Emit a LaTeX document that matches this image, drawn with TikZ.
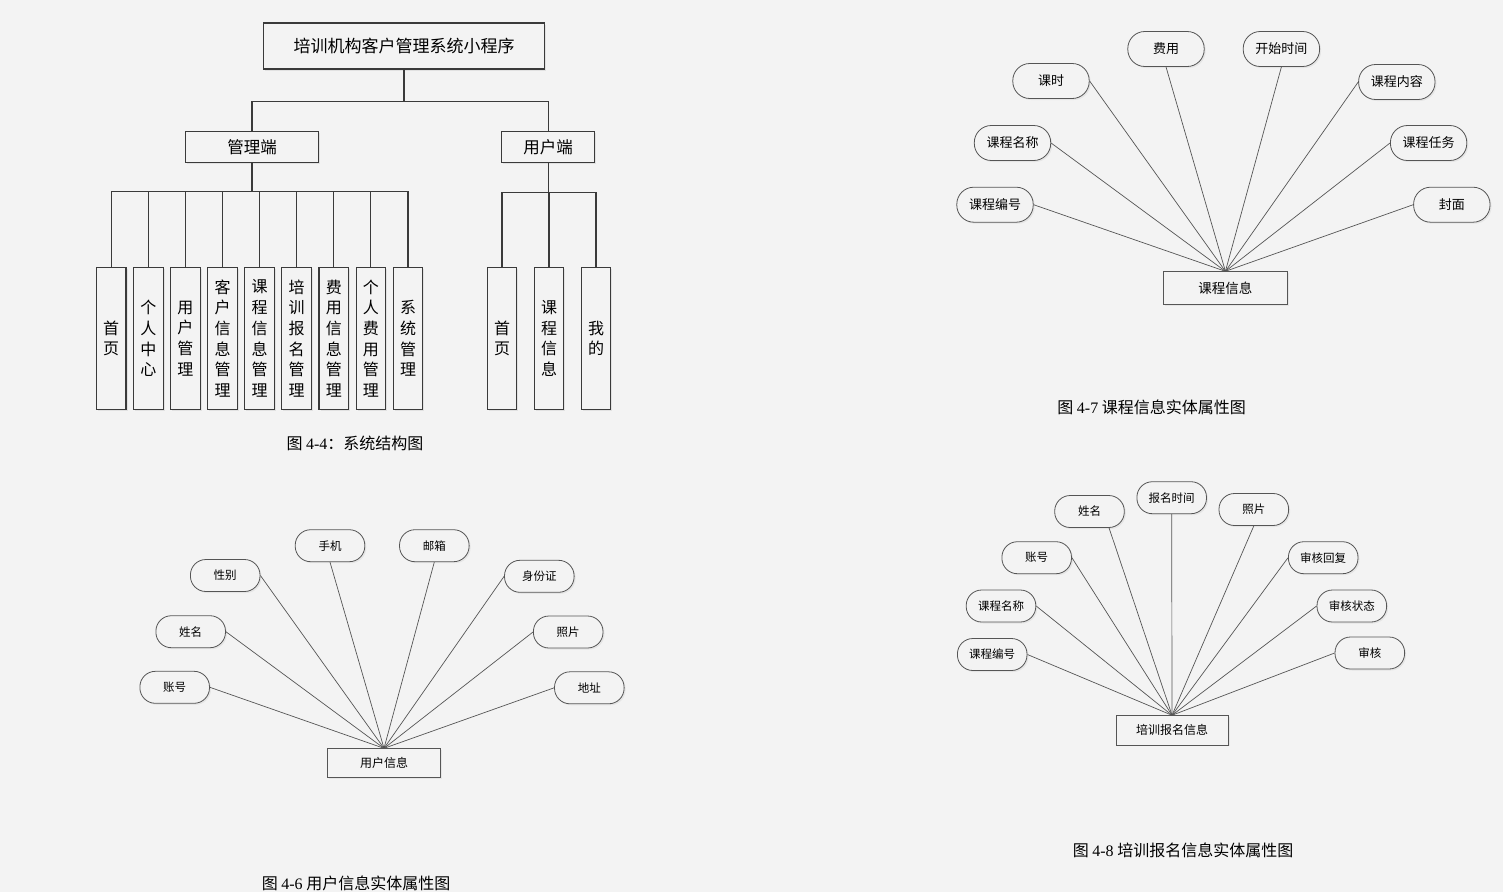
\documentclass[tikz,border=0pt]{standalone}
\usepackage{fontspec}
\setmainfont{Noto Sans CJK SC}
\newfontfamily\capfont{Liberation Serif}
\usetikzlibrary{shadows}
\definecolor{bgcol}{HTML}{F3F3F3}
\definecolor{linecol}{HTML}{3A3A3A}
\definecolor{ercol}{HTML}{555555}
\tikzset{
  treebox/.style={draw=linecol, line width=1.1pt, fill=bgcol, inner sep=0pt,
    drop shadow={opacity=0.15, shadow xshift=1.5pt, shadow yshift=-1.5pt},
    font=\fontsize{16.5}{20}\selectfont},
  leafbox/.style={treebox, minimum width=29.6pt, minimum height=142.4pt,
    anchor=north, align=center, font=\fontsize{16}{20.7}\selectfont},
  treeline/.style={draw=linecol, line width=1.1pt},
  erattr/.style={draw=ercol, line width=0.8pt, fill=bgcol, inner sep=0pt,
    drop shadow={opacity=0.12, shadow xshift=1.5pt, shadow yshift=-1.5pt}},
  attrbig/.style={erattr, minimum width=76.4pt, minimum height=35pt,
    rounded corners=17pt, font=\fontsize{13}{15}\selectfont},
  attrsmall/.style={erattr, minimum width=69.6pt, minimum height=32pt,
    rounded corners=15.5pt, font=\fontsize{11.5}{13}\selectfont},
  entbox/.style={erattr, rounded corners=0pt},
  erline/.style={draw=ercol, line width=0.7pt},
  caption/.style={font=\fontsize{16}{18}\selectfont}
}
\begin{document}
\begin{tikzpicture}[x=1pt,y=-1pt]
\fill[bgcol] (0,0) rectangle (1503,892);
\useasboundingbox (0,0) rectangle (1503,892);

% system structure
\node[treebox, minimum width=281pt, minimum height=46pt, font=\fontsize{17}{20}\selectfont] (root) at (404,46) {培训机构客户管理系统小程序};
\node[treebox, minimum width=133pt, minimum height=30.6pt] (adm) at (252,147) {管理端};
\node[treebox, minimum width=93pt, minimum height=30.6pt] (usr) at (548.2,147) {用户端};
\draw[treeline] (root.south) -- ++(0,32.3) coordinate (rj);
\draw[treeline] (rj) -| (adm.north);
\draw[treeline] (rj) -| (usr.north);

\node[leafbox] (a1) at (111.2,266.7) {首\\页};
\node[leafbox] (a2) at (148.3,266.7) {个\\人\\中\\心};
\node[leafbox] (a3) at (185.4,266.7) {用\\户\\管\\理};
\node[leafbox] (a4) at (222.5,266.7) {客\\户\\信\\息\\管\\理};
\node[leafbox] (a5) at (259.6,266.7) {课\\程\\信\\息\\管\\理};
\node[leafbox] (a6) at (296.7,266.7) {培\\训\\报\\名\\管\\理};
\node[leafbox] (a7) at (333.8,266.7) {费\\用\\信\\息\\管\\理};
\node[leafbox] (a8) at (370.9,266.7) {个\\人\\费\\用\\管\\理};
\node[leafbox] (a9) at (408.0,266.7) {系\\统\\管\\理};
\draw[treeline] (adm.south) -- ++(0,28.7) coordinate (aj);
\draw[treeline] (aj) -| (a1.north);
\draw[treeline] (aj) -| (a2.north);
\draw[treeline] (aj) -| (a3.north);
\draw[treeline] (aj) -| (a4.north);
\draw[treeline] (aj) -- (a5.north |- aj) -- (a5.north);
\draw[treeline] (aj) -| (a6.north);
\draw[treeline] (aj) -| (a7.north);
\draw[treeline] (aj) -| (a8.north);
\draw[treeline] (aj) -| (a9.north);

\node[leafbox] (u1) at (502,266.7) {首\\页};
\node[leafbox] (u2) at (549,266.7) {课\\程\\信\\息};
\node[leafbox] (u3) at (596,266.7) {我\\的};
\draw[treeline] (usr.south) -- ++(0,30) coordinate (uj);
\draw[treeline] (uj) -| (u1.north);
\draw[treeline] (uj) -| (u2.north);
\draw[treeline] (uj) -| (u3.north);
\node[caption] (cap44) at (355,443) {图 {\capfont 4-4}：系统结构图};

% course entity
\node[attrbig] (kcks) at (1051,81) {课时};
\node[attrbig] (kcfy) at (1166,49) {费用};
\node[attrbig] (kcsj) at (1281.4,49) {开始时间};
\node[attrbig] (kcnr) at (1396.8,82) {课程内容};
\node[attrbig] (kcmc) at (1012.5,143) {课程名称};
\node[attrbig] (kcrw) at (1428.6,143) {课程任务};
\node[attrbig] (kcbh) at (995,204.7) {课程编号};
\node[attrbig] (kcfm) at (1451.8,204.7) {封面};
\node[entbox, minimum width=124.3pt, minimum height=32.6pt, font=\fontsize{13.5}{15}\selectfont] (kcxx) at (1225.4,288) {课程信息};
\draw[erline] (kcks.east) -- (kcxx.north);
\draw[erline] (kcfy.south) -- (kcxx.north);
\draw[erline] (kcsj.south) -- (kcxx.north);
\draw[erline] (kcnr.west) -- (kcxx.north);
\draw[erline] (kcmc.east) -- (kcxx.north);
\draw[erline] (kcrw.west) -- (kcxx.north);
\draw[erline] (kcbh.east) -- (kcxx.north);
\draw[erline] (kcfm.west) -- (kcxx.north);
\node[caption] (cap47) at (1151.6,407.7) {图 {\capfont 4-7} 课程信息实体属性图};

% user entity
\node[attrsmall] (yhxb) at (225.2,575.5) {性别};
\node[attrsmall] (yhsj) at (330,545.7) {手机};
\node[attrsmall] (yhyx) at (434.3,545.7) {邮箱};
\node[attrsmall] (yhsf) at (539.3,576.3) {身份证};
\node[attrsmall] (yhxm) at (190.7,631.7) {姓名};
\node[attrsmall] (yhzp) at (568.2,632) {照片};
\node[attrsmall] (yhzh) at (174.7,687.3) {账号};
\node[attrsmall] (yhdz) at (589.3,687.8) {地址};
\node[entbox, minimum width=112.6pt, minimum height=29pt, font=\fontsize{12}{14}\selectfont] (yhxx) at (384,763.2) {用户信息};
\draw[erline] (yhxb.east) -- (yhxx.north);
\draw[erline] (yhsj.south) -- (yhxx.north);
\draw[erline] (yhyx.south) -- (yhxx.north);
\draw[erline] (yhsf.west) -- (yhxx.north);
\draw[erline] (yhxm.east) -- (yhxx.north);
\draw[erline] (yhzp.west) -- (yhxx.north);
\draw[erline] (yhzh.east) -- (yhxx.north);
\draw[erline] (yhdz.west) -- (yhxx.north);
\node[caption] (cap46) at (356,883) {图 {\capfont 4-6} 用户信息实体属性图};

% enrolment entity
\node[attrsmall] (bmxm) at (1089.5,511.5) {姓名};
\node[attrsmall] (bmsj) at (1171.7,497.7) {报名时间};
\node[attrsmall] (bmzp) at (1253.8,509.5) {照片};
\node[attrsmall] (bmzh) at (1036.7,557.7) {账号};
\node[attrsmall] (bmhf) at (1323.2,557.7) {审核回复};
\node[attrsmall] (bmmc) at (1001,606) {课程名称};
\node[attrsmall] (bmzt) at (1351.8,606) {审核状态};
\node[attrsmall] (bmbh) at (992.2,654.5) {课程编号};
\node[attrsmall] (bmsh) at (1369.8,653) {审核};
\node[entbox, minimum width=112pt, minimum height=29.3pt, font=\fontsize{12}{14}\selectfont] (bmxx) at (1172,730.3) {培训报名信息};
\draw[erline] (bmxm.-40) -- (bmxx.north);
\draw[erline] (bmsj.south) -- (bmxx.north);
\draw[erline] (bmzp.south) -- (bmxx.north);
\draw[erline] (bmzh.east) -- (bmxx.north);
\draw[erline] (bmhf.west) -- (bmxx.north);
\draw[erline] (bmmc.east) -- (bmxx.north);
\draw[erline] (bmzt.west) -- (bmxx.north);
\draw[erline] (bmbh.east) -- (bmxx.north);
\draw[erline] (bmsh.west) -- (bmxx.north);
\node[caption] (cap48) at (1183,850) {图 {\capfont 4-8} 培训报名信息实体属性图};
\end{tikzpicture}
\end{document}
